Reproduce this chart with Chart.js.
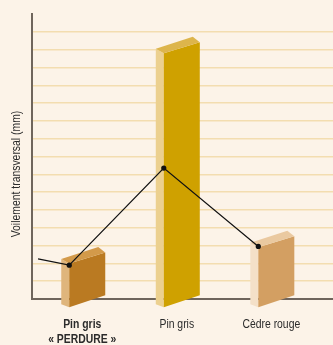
<!DOCTYPE html>
<html lang="fr">
<head>
<meta charset="utf-8">
<title>Voilement transversal</title>
<script src="https://cdn.jsdelivr.net/npm/chart.js@4/dist/chart.umd.min.js"></script>
<style>
  html, body { margin: 0; padding: 0; background: #fcf3e8; }
  .container { position: relative; width: 333px; height: 345px; }
</style>
</head>
<body>
<div class="container">
  <canvas id="chart"></canvas>
</div>
<script>
const categories = [["Pin gris", "« PERDURE »"], ["Pin gris"], ["Cèdre rouge"]];
const barValues = [2.0, 13.8, 2.9];
const lineValues = [1.9, 7.35, 2.95];
// the line comes in from a point left of the first category
const leadX = -0.33;
const leadValue = 2.25;

const FONT = "'Liberation Sans', Arial, sans-serif";
const SQUEEZE = 0.8; // condensed look, no narrow face installed
const AXIS = "#6f655c";
const TEXT = "#2b2b2b";

// front / side / top shades for each box
const boxColors = [
  { front: "#ba7a22", side: "#dfb57c", top: "#d39a4a" },
  { front: "#cfa100", side: "#ecd08f", top: "#ddb54c" },
  { front: "#d39f62", side: "#f4e0c8", top: "#eac9a0" },
];

function poly(ctx, pts, color) {
  ctx.beginPath();
  ctx.moveTo(pts[0][0], pts[0][1]);
  for (let i = 1; i < pts.length; i++) ctx.lineTo(pts[i][0], pts[i][1]);
  ctx.closePath();
  ctx.fillStyle = color;
  ctx.fill();
}

function squeezedText(ctx, text, x, y) {
  ctx.save();
  ctx.translate(x, y);
  ctx.scale(SQUEEZE, 1);
  ctx.fillText(text, 0, 0);
  ctx.restore();
}

// draws each bar as a slanted box, front-left corner on the category position
const boxes = {
  id: "boxes",
  afterDatasetDraw(chart, args) {
    if (args.meta.type !== "bar") return;
    const ctx = chart.ctx;
    const skew = 11, drop = 9, depthX = 8, depthY = 4.5;
    ctx.save();
    args.meta.data.forEach((bar, i) => {
      const { x, y, base, width } = bar.getProps(["x", "y", "base", "width"], true);
      const c = boxColors[i];
      const r = x + width;
      const bottom = base + drop;
      poly(ctx, [[x - depthX, y - depthY], [x, y], [x, bottom], [x - depthX, bottom - 3]], c.side);
      poly(ctx, [[x, y], [r, y - skew], [r, bottom - skew - 1], [x, bottom]], c.front);
      poly(ctx, [[x - depthX, y - depthY], [r - 7, y - skew - 5.5], [r, y - skew], [x, y]], c.top);
    });
    ctx.restore();
  },
};

// category names under the boxes and the rotated y title
const labels = {
  id: "labels",
  afterDraw(chart) {
    const { ctx, chartArea } = chart;
    const xScale = chart.scales.x;
    ctx.save();
    ctx.fillStyle = TEXT;
    ctx.textAlign = "center";
    ctx.textBaseline = "alphabetic";
    categories.forEach((lines, i) => {
      ctx.font = (i === 0 ? "bold " : "") + "13px " + FONT;
      const cx = xScale.getPixelForValue(i) + 13;
      lines.forEach((line, k) => {
        squeezedText(ctx, line, cx, chartArea.bottom + 28.5 + k * 15);
      });
    });

    ctx.translate(chartArea.left - 16, chartArea.bottom - 125);
    ctx.rotate(-Math.PI / 2);
    ctx.font = "13px " + FONT;
    ctx.textBaseline = "middle";
    squeezedText(ctx, "Voilement transversal (mm)", 0, 0);
    ctx.restore();
  },
};

const ctx = document.getElementById("chart").getContext("2d");

new Chart(ctx, {
  data: {
    datasets: [
      {
        type: "line",
        data: [{ x: leadX, y: leadValue }, ...lineValues.map((v, i) => ({ x: i, y: v }))],
        borderColor: "#111",
        borderWidth: 1.2,
        pointRadius: [0, 2.6, 2.6, 2.6],
        pointBackgroundColor: "#111",
        pointBorderWidth: 0,
        tension: 0,
        order: 0,
      },
      {
        type: "bar",
        data: barValues.map((v, i) => ({ x: i, y: v })),
        backgroundColor: "transparent",
        barThickness: 36,
        order: 1,
      },
    ],
  },
  options: {
    responsive: true,
    maintainAspectRatio: false,
    animation: false,
    layout: { autoPadding: false, padding: { left: 32, top: 14, right: 0, bottom: 46 } },
    plugins: {
      legend: { display: false },
      tooltip: { enabled: false },
    },
    scales: {
      x: {
        type: "linear",
        offset: false,
        min: -0.394,
        max: 2.79,
        grid: { display: false, drawTicks: false },
        border: { display: true, color: AXIS, width: 2 },
        ticks: { display: false },
      },
      y: {
        min: 0,
        max: 16,
        grid: {
          drawTicks: false,
          lineWidth: 1.5,
          color: (c) => (c.tick && (c.tick.value === 0 || c.tick.value === 16) ? "rgba(0,0,0,0)" : "#f3ddb0"),
        },
        border: { display: true, color: AXIS, width: 2 },
        ticks: { display: false, stepSize: 1 },
      },
    },
  },
  plugins: [boxes, labels],
});
</script>
</body>
</html>
